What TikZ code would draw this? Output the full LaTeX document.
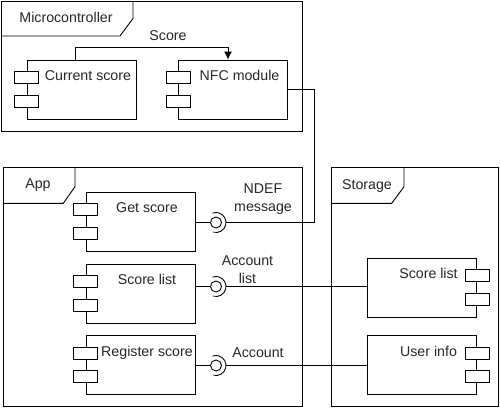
\documentclass[tikz,border=0pt]{standalone}
\usepackage{fontspec}
\setmainfont{Liberation Sans}
\usetikzlibrary{arrows.meta, positioning}
\definecolor{ink}{RGB}{0, 0, 0}

\begin{document}
\begin{tikzpicture}[
  x=1pt, y=-1pt, line width=0.9pt, draw=ink,
  every node/.style={font=\fontsize{14.2}{18.4}\selectfont, text=ink!85},
  frame/.style={draw=ink},
  comp/.style={rectangle, draw=ink, minimum width=109pt, minimum height=59pt, inner sep=0pt},
  complbl/.style={anchor=base, xshift=6.5pt, yshift=-21pt},
  port/.style={draw=ink, fill=white},
  lolli/.style={circle, draw=ink, minimum size=11pt, inner sep=0pt},
  txt/.style={anchor=base, align=center},
  arrow/.style={-{Latex[length=8pt, width=8pt]}}
]
  \useasboundingbox (0,0) rectangle (500,408);

  % Frames
  \draw[frame] (1,1) rectangle (302.5,131.5);
  \draw[frame] (1,36) -- (120,36) -- (133,18.5) -- (133,1);
  \node[txt] (mcutitle) at (66,22.5) {Microcontroller};

  \draw[frame] (3.3,167.3) rectangle (302.7,406.7);
  \draw[frame] (3.3,203.3) -- (63.3,203.3) -- (75,186.7) -- (75,167.3);
  \node[txt] (apptitle) at (38,188.5) {App};

  \draw[frame] (331.7,167.7) rectangle (498.3,406.7);
  \draw[frame] (331.7,203.3) -- (391.7,203.3) -- (404,186.7) -- (404,167.7);
  \node[txt] (stotitle) at (367,189) {Storage};

  % Components
  \node[comp, label={[complbl]north:Current score}] (cur) at (81.5,89.5) {};
  \node[comp, label={[complbl]north:NFC module}] (nfc) at (233,89.5) {};
  \node[comp, label={[complbl]north:Get score}] (get) at (140.5,221.5) {};
  \node[comp, label={[complbl]north:Score list}] (lst) at (140.5,293.8) {};
  \node[comp, label={[complbl]north:Register score}] (reg) at (140.5,365) {};
  \node[comp, label={[complbl]north:Score list}] (sls) at (422,287.5) {};
  \node[comp, label={[complbl]north:User info}] (usr) at (422,365) {};

  \foreach \c in {cur,nfc,get,lst,reg} {
    \draw[port] ([xshift=-12pt,yshift=-12pt]\c.north west) rectangle ++(24,12);
    \draw[port] ([xshift=-12pt,yshift=-35.5pt]\c.north west) rectangle ++(24,12);
  }
  \foreach \c in {sls,usr} {
    \draw[port] ([xshift=-12pt,yshift=-12pt]\c.north east) rectangle ++(24,12);
    \draw[port] ([xshift=-12pt,yshift=-35.5pt]\c.north east) rectangle ++(24,12);
  }

  % Interfaces
  \node[lolli] (ndef) at (216,222.5) {};
  \node[lolli] (acclist) at (216,286.5) {};
  \node[lolli] (acc) at (216,365.5) {};
  \foreach \i in {ndef,acclist,acc} {
    \draw ([shift={(105:10)}]\i.center) arc[start angle=105, end angle=-110, radius=10];
    \coordinate (\i s) at ([xshift=10pt]\i.center);
  }

  \node[txt] (ndeflbl) at (263,211.7) {NDEF\\message};
  \node[txt] (acclistlbl) at (247.5,283.5) {Account\\list};
  \node[txt] (acclbl) at (258,357.3) {Account};
  \node[txt] (scorelbl) at (168,40.5) {Score};

  % Paths
  \draw[arrow] ([xshift=-6.5pt]cur.north) -- ++(0,-12) -| ([xshift=-5pt]nfc.north);
  \draw (nfc.east) -- ++(26,0) |- (ndefs);
  \draw (ndef.west) -- (ndef.west -| get.east);
  \draw (acclist.west) -- (acclist.west -| lst.east);
  \draw (acc.west) -- (acc.west -| reg.east);
  \draw (acclists) -- (acclists -| sls.west);
  \draw (accs) -- (accs -| usr.west);
\end{tikzpicture}
\end{document}
